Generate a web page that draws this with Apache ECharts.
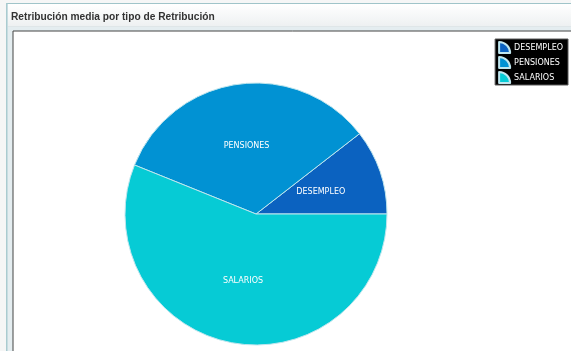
<!DOCTYPE html>
<html>
<head>
<meta charset="utf-8">
<script src="https://cdn.jsdelivr.net/npm/echarts@6/dist/echarts.min.js"></script>
<style>
html,body{margin:0;padding:0;background:#f5f6f6;}
#c{width:571px;height:351px;}
</style>
</head>
<body>
<div id="c"></div>
<script>
const titleText = 'Retribución media por tipo de Retribución';
const categories = ['DESEMPLEO', 'PENSIONES', 'SALARIOS'];
const values = [10.5, 33.4, 56.1];
const colors = ['#0b62c0', '#0192d3', '#06cbd5'];

const chart = echarts.init(document.getElementById('c'), null, {renderer: 'canvas'});
const data = categories.map((n, i) => ({name: n, value: values[i], itemStyle: {color: colors[i]}}));
const iconPath = 'path://M0,0 A12,12 0 0 1 12,12 L0,12 Z';

chart.setOption({
  backgroundColor: '#f5f6f6',
  animation: false,
  graphic: [
    {type: 'rect', shape: {x: 6, y: 3, width: 565, height: 348}, style: {fill: '#e4edf0'}, silent: true, z: 0},
    {type: 'rect', shape: {x: 6, y: 3, width: 565, height: 1}, style: {fill: '#9fc4c9'}, silent: true, z: 1},
    {type: 'rect', shape: {x: 6, y: 3, width: 1.5, height: 348}, style: {fill: '#a9cbd0'}, silent: true, z: 1},
    {type: 'rect', shape: {x: 8, y: 4, width: 563, height: 23},
      style: {fill: new echarts.graphic.LinearGradient(0, 0, 0, 1, [{offset: 0, color: '#ffffff'}, {offset: 1, color: '#edf0f1'}])}, silent: true, z: 1},
    {type: 'rect', shape: {x: 8, y: 26, width: 563, height: 1}, style: {fill: '#dfe6e8'}, silent: true, z: 1},
    {type: 'rect', shape: {x: 13, y: 31, width: 560, height: 322}, style: {fill: '#ffffff', stroke: '#444444', lineWidth: 1}, silent: true, z: 1}
  ],
  title: {
    text: titleText,
    left: 6, top: 7,
    textStyle: {fontFamily: 'Liberation Sans', fontWeight: 'bold', fontSize: 10.2, color: '#333333'}
  },
  legend: {
    orient: 'vertical',
    right: 3, top: 39,
    backgroundColor: '#000000',
    borderColor: '#5a5a5a', borderWidth: 1,
    padding: [2, 5, 1, 3],
    itemWidth: 13, itemHeight: 11, itemGap: 2,
    icon: iconPath,
    data: categories,
    textStyle: {color: '#ffffff', fontFamily: 'DejaVu Sans', fontSize: 8, lineHeight: 11, padding: [0, 0, 0, -2]}
  },
  series: [{
    type: 'pie',
    center: [256, 214],
    radius: 131,
    startAngle: 0,
    clockwise: false,
    data: data,
    itemStyle: {borderColor: '#bfe6ee', borderWidth: 1},
    label: {position: 'inner', color: '#ffffff', fontFamily: 'DejaVu Sans', fontSize: 8, formatter: '{b}'},
    labelLine: {show: false},
    emphasis: {disabled: true}
  }]
});
</script>
</body>
</html>
